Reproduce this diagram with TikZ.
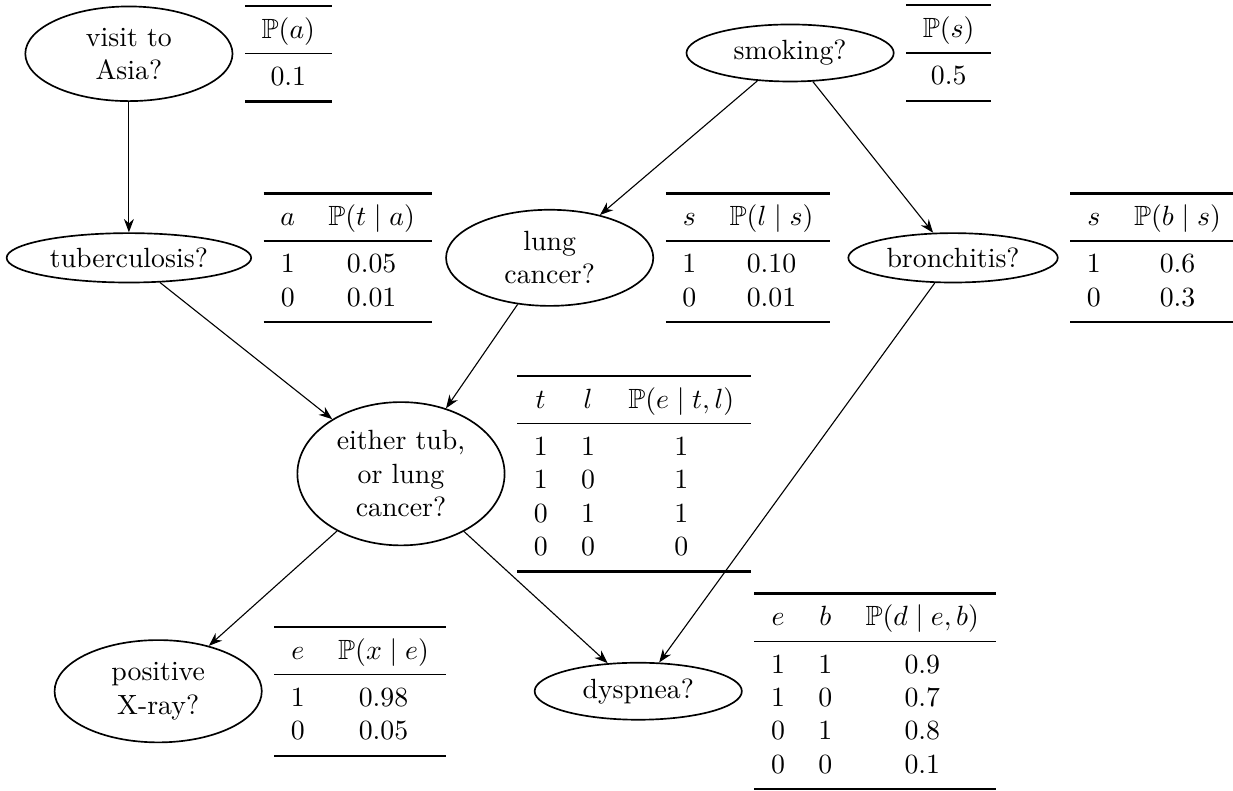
\documentclass[tikz,border=0pt]{standalone}
\usepackage{amsmath,amssymb}
\usepackage{booktabs}
\usetikzlibrary{arrows.meta,positioning,shapes.geometric}
\newcommand{\Prob}{\mathbb{P}}

\begin{document}
\begin{tikzpicture}[
    node distance=4pt,
    var/.style={draw, semithick, ellipse, align=center, inner sep=2.7pt, minimum width=2.62cm},
    cpt/.style={inner sep=0pt},
    edge/.style={-{Stealth}},
]
    \useasboundingbox (0,0) rectangle (15.59,-10);

    % Variables
    \node[var] (asia) at (1.63, -0.68) {visit to\\Asia?};
    \node[var] (smoke) at (9.99, -0.67) {smoking?};
    \node[var] (tub) at (1.63, -3.26) {tuberculosis?};
    \node[var] (lung) at (6.95, -3.26) {lung\\cancer?};
    \node[var] (bronc) at (12.05, -3.26) {bronchitis?};
    \node[var] (either) at (5.07, -5.99) {either tub,\\or lung\\cancer?};
    \node[var] (xray) at (2.00, -8.74) {positive\\X-ray?};
    \node[var] (dysp) at (8.07, -8.74) {dyspnea?};

    % Probability tables
    \node[cpt, right=of asia] (pa) {\begin{tabular}{c}
        \toprule $\Prob(a)$ \\ \midrule 0.1 \\ \bottomrule
    \end{tabular}};
    \node[cpt, right=of smoke] (ps) {\begin{tabular}{c}
        \toprule $\Prob(s)$ \\ \midrule 0.5 \\ \bottomrule
    \end{tabular}};
    \node[cpt, right=of tub] (pt) {\begin{tabular}{cc}
        \toprule $a$ & $\Prob(t \mid a)$ \\ \midrule
        1 & 0.05 \\ 0 & 0.01 \\ \bottomrule
    \end{tabular}};
    \node[cpt, right=of lung] (pl) {\begin{tabular}{cc}
        \toprule $s$ & $\Prob(l \mid s)$ \\ \midrule
        1 & 0.10 \\ 0 & 0.01 \\ \bottomrule
    \end{tabular}};
    \node[cpt, right=of bronc] (pb) {\begin{tabular}{cc}
        \toprule $s$ & $\Prob(b \mid s)$ \\ \midrule
        1 & 0.6 \\ 0 & 0.3 \\ \bottomrule
    \end{tabular}};
    \node[cpt, right=of either] (pe) {\begin{tabular}{ccc}
        \toprule $t$ & $l$ & $\Prob(e \mid t, l)$ \\ \midrule
        1 & 1 & 1 \\ 1 & 0 & 1 \\ 0 & 1 & 1 \\ 0 & 0 & 0 \\ \bottomrule
    \end{tabular}};
    \node[cpt, right=of xray] (px) {\begin{tabular}{cc}
        \toprule $e$ & $\Prob(x \mid e)$ \\ \midrule
        1 & 0.98 \\ 0 & 0.05 \\ \bottomrule
    \end{tabular}};
    \node[cpt, right=of dysp] (pd) {\begin{tabular}{ccc}
        \toprule $e$ & $b$ & $\Prob(d \mid e, b)$ \\ \midrule
        1 & 1 & 0.9 \\ 1 & 0 & 0.7 \\ 0 & 1 & 0.8 \\ 0 & 0 & 0.1 \\ \bottomrule
    \end{tabular}};

    % Dependencies
    \draw[edge] (asia) -- (tub);
    \draw[edge] (smoke) -- (lung);
    \draw[edge] (smoke) -- (bronc);
    \draw[edge] (tub) -- (either);
    \draw[edge] (lung) -- (either);
    \draw[edge] (either) -- (xray);
    \draw[edge] (either) -- (dysp);
    \draw[edge] (bronc) -- (dysp);
\end{tikzpicture}
\end{document}
